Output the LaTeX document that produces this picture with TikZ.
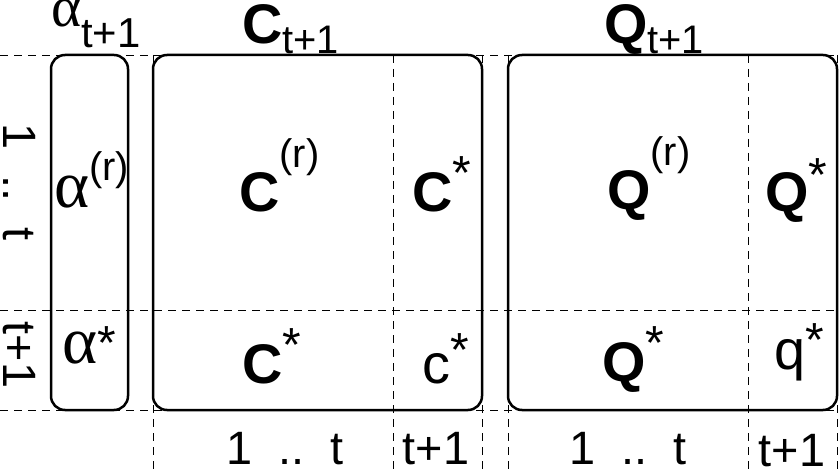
\documentclass[tikz,border=0pt]{standalone}
\usepackage{fontspec}
\setmainfont{Liberation Sans}
\newfontfamily\greekfont[Scale=1.2]{Liberation Serif}
\usetikzlibrary{positioning}
\newcommand{\supr}[2][44bp]{\raisebox{#1}{\fontsize{40}{40}\selectfont #2}}
\newcommand{\supstar}[1][22bp]{\raisebox{#1}{\fontsize{48}{48}\selectfont *}}
\newcommand{\subr}[1]{\raisebox{-10bp}{\fontsize{40}{40}\selectfont #1}}
\newcommand{\alp}{{\greekfont α}}

\begin{document}
\begin{tikzpicture}[x=1bp,y=-1bp]
	%defines
	\tikzstyle{matBox} = [rectangle, rounded corners=14bp, draw=black, line width=2.5bp, inner sep=0pt, outer sep=0pt]
	\tikzstyle{gridLine} = [draw=black, line width=0.8bp, dash pattern=on 8bp off 6bp]
	\tikzstyle{entry} = [anchor=base west, inner sep=0pt, font=\fontsize{56}{60}\selectfont]
	\tikzstyle{index} = [inner sep=0pt, font=\fontsize{47}{55}\selectfont]
	\useasboundingbox (0,0) rectangle (839,474);
	%grid
	\foreach \y in {55,310,410} \draw [gridLine] (0,\y) -- (839,\y);
	\foreach \x in {153,393,482,508,748,837} \draw [gridLine] (\x,55) -- (\x,474);
	%blocks
	\node (alphaBox) [matBox, minimum width=77bp, minimum height=355bp] at (89.5,232.5) {};
	\node (cBox) [matBox, minimum width=329bp, minimum height=355bp] at (317.5,232.5) {};
	\node (qBox) [matBox, minimum width=329bp, minimum height=355bp] at (672.5,232.5) {};
	%titles
	\node (alphaTitle) [entry] at (51,48) {\raisebox{21bp}{\fontsize{48}{48}\selectfont\alp}\fontsize{42}{42}\selectfont t+1};
	\node (cTitle) [entry] at (242,44) {\textbf{C}\subr{t+1}};
	\node (qTitle) [entry] at (604,44) {\textbf{Q}\subr{t+1}};
	%entries
	\node (alphaR) [entry] at (54,208) {\alp\supr[27bp]{(r)}};
	\node (alphaStar) [entry] at (62,364) {\alp\supstar[4bp]};
	\node (cR) [entry] at (239,212) {\textbf{C}\supr{(r)}};
	\node (cStarCol) [entry] at (412,212) {\textbf{C}\supstar};
	\node (cStarRow) [entry] at (242,384) {\textbf{C}\supstar};
	\node (cStar) [entry] at (422,384) {c\supstar[17bp]};
	\node (qR) [entry] at (607,210) {\textbf{Q}\supr{(r)}};
	\node (qStarCol) [entry] at (765,212) {\textbf{Q}\supstar[20bp]};
	\node (qStarRow) [entry] at (602,382) {\textbf{Q}\supstar};
	\node (qStar) [entry] at (774,370) {q\supstar[13bp]};
	%indices
	\node (rowOld) [index, rotate=-90] at (19,182) {1~~..~~t};
	\node (rowNew) [index, rotate=-90] at (19,355) {t+1};
	\node (cColOld) [index, anchor=base] at (285,464) {1~~..~~t};
	\node (cColNew) [index, anchor=base] at (436,464) {t+1};
	\node (qColOld) [index, anchor=base] at (628,464) {1~~..~~t};
	\node (qColNew) [index, anchor=base] at (792,466) {t+1};
\end{tikzpicture}
\end{document}
